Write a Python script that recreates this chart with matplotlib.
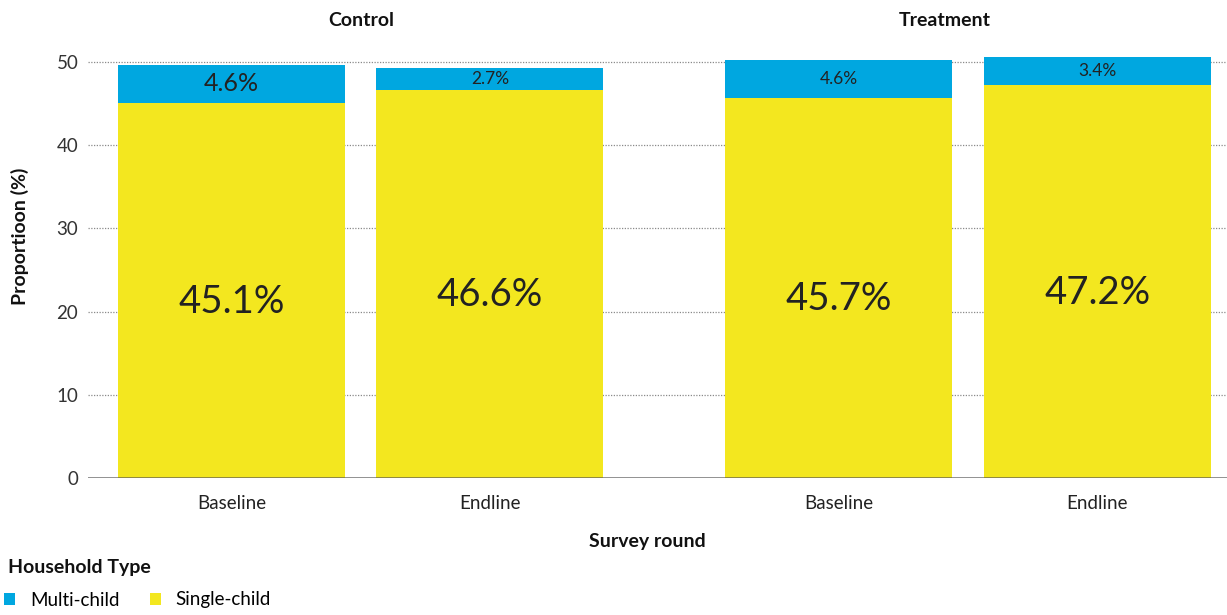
import matplotlib
matplotlib.use("Agg")
import matplotlib.pyplot as plt
from matplotlib.patches import Patch

plt.rcParams["font.family"] = ["Lato", "DejaVu Sans"]

# Data
groups = ["Control", "Treatment"]
rounds = ["Baseline", "Endline", "Baseline", "Endline"]
single_child = [45.1, 46.6, 45.7, 47.2]
multi_child = [4.6, 2.7, 4.6, 3.4]
y_ticks = [0, 10, 20, 30, 40, 50]

# Styling
BLUE = "#00A7E0"
YELLOW = "#F3E71F"
TEXT = "#222222"
positions = [0.0, 1.0, 2.35, 3.35]
bar_width = 0.878
multi_label_sizes = [18, 12.5, 12.5, 12.5]

W, H = 1227, 615
fig = plt.figure(figsize=(W / 100, H / 100), dpi=100)
ax = fig.add_axes([88 / W, 1 - 478 / H, 1 - 88 / W, (478 - 56.2) / H])

ax.bar(positions, single_child, width=bar_width, color=YELLOW, zorder=2, linewidth=0)
ax.bar(positions, multi_child, width=bar_width, bottom=single_child, color=BLUE,
       zorder=2, linewidth=0)

for x, s, m, fs in zip(positions, single_child, multi_child, multi_label_sizes):
    ax.annotate(f"{s}%", (x, s / 2), xytext=(0, -8), textcoords="offset points",
                ha="center", va="center", fontsize=27.5, color=TEXT, zorder=3)
    ax.text(x, s + m / 2, f"{m}%", ha="center", va="center", fontsize=fs,
            color=TEXT, zorder=3)

ax.set_xlim(-0.555, 3.851)
ax.set_ylim(0, 50.7)
ax.set_yticks(y_ticks)
ax.set_yticklabels([str(t) for t in y_ticks], fontsize=13.5, color="#333333")
ax.set_xticks(positions)
ax.set_xticklabels(rounds, fontsize=13.5, color="#222222")
ax.tick_params(axis="both", length=0)
ax.tick_params(axis="y", pad=7)
ax.tick_params(axis="x", pad=12)

for t in y_ticks[1:]:
    ax.axhline(t, color="#8a8a8a", linestyle=(0, (1, 1.2)), linewidth=0.9, zorder=1)
ax.axhline(0, color="#555555", alpha=0.7, linewidth=2, zorder=4)

for side in ["top", "right", "left", "bottom"]:
    ax.spines[side].set_visible(False)

# Facet titles
fig.text(361 / W, 1 - 21 / H, groups[0], ha="center", va="center",
         fontsize=14, fontweight="bold", color="#111111")
fig.text(945 / W, 1 - 21 / H, groups[1], ha="center", va="center",
         fontsize=14, fontweight="bold", color="#111111")

# Axis titles
fig.text(20 / W, 1 - 236 / H, "Proportioon (%)", rotation=90, ha="center", va="center",
         fontsize=14, fontweight="bold", color="#111111")
fig.text(647 / W, 1 - 541 / H, "Survey round", ha="center", va="center",
         fontsize=14, fontweight="bold", color="#111111")

# Legend
fig.text(8 / W, 1 - 567 / H, "Household Type", ha="left", va="center",
         fontsize=14, fontweight="bold", color="#111111")
handles = [Patch(facecolor=BLUE, edgecolor="none", label="Multi-child"),
           Patch(facecolor=YELLOW, edgecolor="none", label="Single-child")]
fig.legend(handles=handles, loc="center left", bbox_to_anchor=(0.0, 1 - 600 / H),
           ncol=2, frameon=False, fontsize=13.5, handlelength=0.6, handleheight=0.6,
           handletextpad=0.8, columnspacing=1.6, borderpad=0.2, borderaxespad=0)

fig.savefig("out.png", dpi=100)
